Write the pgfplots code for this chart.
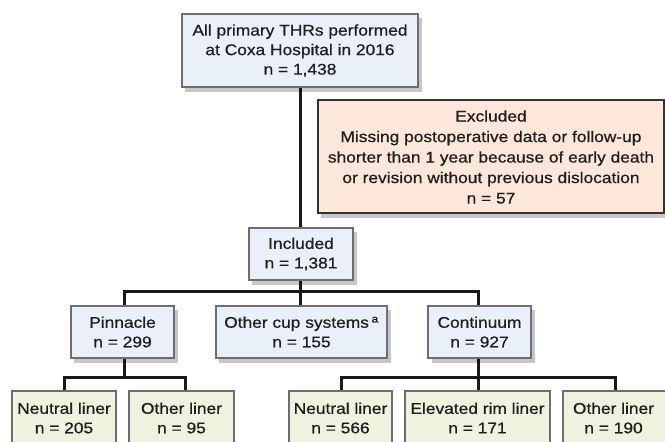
\documentclass[border=0pt]{standalone}
\usepackage{pgfplots}
\pgfplotsset{compat=1.18}
\usepackage{fontspec}
\setmainfont{Liberation Sans}[FakeStretch=1.12, FakeBold=0.7]
\definecolor{bluefill}{RGB}{234,240,250}
\definecolor{peachfill}{RGB}{253,230,218}
\definecolor{greenfill}{RGB}{238,242,222}
\definecolor{boxedge}{RGB}{110,110,110}
\definecolor{lineclr}{RGB}{25,25,25}
\tikzset{
  shd/.style={fill=black, opacity=0.22, draw=none},
  bx/.style={draw=boxedge, line width=1.2bp},
  ln/.style={draw=lineclr, line width=3bp},
  txt/.style={align=center, font=\fontsize{15.5bp}{19.5bp}\selectfont, text=black!88},
}
\begin{document}
\begin{tikzpicture}
\begin{axis}[
  scale only axis, width=665bp, height=442bp,
  xmin=0, xmax=665, ymin=0, ymax=442, y dir=reverse,
  hide axis, clip=true,
]
% ---- connectors
\addplot[ln] coordinates {(300,87) (300,228)};
\addplot[ln] coordinates {(300,280) (300,291)};
\addplot[ln] coordinates {(124,306) (124,291) (478,291) (478,306)};
\addplot[ln] coordinates {(300,291) (300,306)};
\addplot[ln] coordinates {(124,358) (124,377)};
\addplot[ln] coordinates {(64,391) (64,377) (185,377) (185,391)};
\addplot[ln] coordinates {(478,358) (478,377)};
\addplot[ln] coordinates {(341,391) (341,377) (615,377) (615,391)};
\addplot[ln] coordinates {(478,377) (478,391)};
% ---- shadows
\addplot[shd] coordinates {(185,18) (422,18) (422,92) (185,92)} --cycle;
\addplot[shd] coordinates {(321,104) (668,104) (668,218) (321,218)} --cycle;
\addplot[shd] coordinates {(252,232) (357,232) (357,285) (252,285)} --cycle;
\addplot[shd] coordinates {(74,310) (178,310) (178,363) (74,363)} --cycle;
\addplot[shd] coordinates {(219,310) (391,310) (391,363) (219,363)} --cycle;
\addplot[shd] coordinates {(432,310) (535,310) (535,363) (432,363)} --cycle;
% ---- boxes
\addplot[bx, fill=bluefill] coordinates {(182,14) (418,14) (418,87) (182,87)} --cycle;
\addplot[draw=black!80, line width=1.2bp, fill=peachfill] coordinates {(318,100) (664,100) (664,213) (318,213)} --cycle;
\addplot[bx, fill=bluefill] coordinates {(249,228) (353,228) (353,280) (249,280)} --cycle;
\addplot[bx, fill=bluefill] coordinates {(71,306) (174,306) (174,358) (71,358)} --cycle;
\addplot[bx, fill=bluefill] coordinates {(216,306) (387,306) (387,358) (216,358)} --cycle;
\addplot[bx, fill=bluefill] coordinates {(428,306) (531,306) (531,358) (428,358)} --cycle;
\addplot[bx, fill=greenfill] coordinates {(12,391) (116,391) (116,446) (12,446)} --cycle;
\addplot[bx, fill=greenfill] coordinates {(129,391) (234,391) (234,446) (129,446)} --cycle;
\addplot[bx, fill=greenfill] coordinates {(289,391) (392,391) (392,446) (289,446)} --cycle;
\addplot[bx, fill=greenfill] coordinates {(405,391) (550,391) (550,446) (405,446)} --cycle;
\addplot[bx, fill=greenfill] coordinates {(563,391) (670,391) (670,446) (563,446)} --cycle;
% ---- texts
\node[txt] at (axis cs:300,50.5) {All primary THRs performed\\at Coxa Hospital in 2016\\n = 1,438};
\node[txt, font=\fontsize{15.5bp}{20.5bp}\selectfont] at (axis cs:491,157) {Excluded\\Missing postoperative data or follow-up\\shorter than 1 year because of early death\\or revision without previous dislocation\\n = 57};
\node[txt] at (axis cs:301,254) {Included\\n = 1,381};
\node[txt] at (axis cs:122.5,332) {Pinnacle\\n = 299};
\node[txt] at (axis cs:301.5,332) {Other cup systems\,\textsuperscript{a}\\n = 155};
\node[txt] at (axis cs:479.5,332) {Continuum\\n = 927};
\node[txt] at (axis cs:64,418) {Neutral liner\\n = 205};
\node[txt] at (axis cs:181.5,418) {Other liner\\n = 95};
\node[txt] at (axis cs:340.5,418) {Neutral liner\\n = 566};
\node[txt] at (axis cs:477.5,418) {Elevated rim liner\\n = 171};
\node[txt] at (axis cs:613.5,418) {Other liner\\n = 190};
\end{axis}
\pgfresetboundingbox
\path (current axis.south west) rectangle (current axis.north east);
\end{tikzpicture}
\end{document}
